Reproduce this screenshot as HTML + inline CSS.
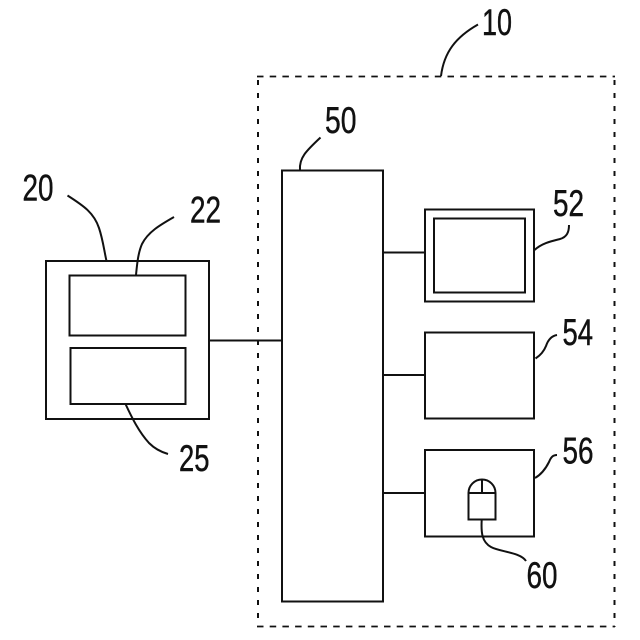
<!DOCTYPE html>
<html>
<head>
<meta charset="utf-8">
<style>
html,body{margin:0;padding:0;background:#fff;}
svg{display:block;}
text{font-family:"Liberation Sans",sans-serif;font-size:37.5px;fill:#111;stroke:#111;stroke-width:0.45;}
.l{fill:none;stroke:#111;stroke-width:2;}
.t{fill:none;stroke:#111;stroke-width:1.7;stroke-dasharray:6.5 6.2;}
.v{fill:none;stroke:#111;stroke-width:2;stroke-dasharray:5 8;}
</style>
</head>
<body>
<svg width="640" height="640" viewBox="0 0 640 640" xmlns="http://www.w3.org/2000/svg">
<rect x="0" y="0" width="640" height="640" fill="#fff"/>
<path class="t" d="M257 76.5H615M257 626.5H615"/>
<path class="v" d="M258 80V627M614.5 80V627"/>
<rect class="l" x="282" y="170.5" width="101" height="431"/>
<rect class="l" x="46" y="261" width="163" height="158"/>
<rect class="l" x="69.5" y="275.5" width="116" height="60"/>
<rect class="l" x="70.5" y="348" width="115" height="56"/>
<path class="l" d="M209 340.5H282"/>
<path class="l" d="M383 252.5H425M383 375H425M383 493H425"/>
<rect class="l" x="425" y="209.5" width="109" height="92"/>
<rect class="l" x="434" y="218.5" width="91" height="74"/>
<rect class="l" x="425" y="332.5" width="109" height="86"/>
<rect class="l" x="425" y="450" width="109" height="86.5"/>
<path class="l" d="M468.5 519.5V493A13.5 13.5 0 0 1 495.5 493V519.5Z"/>
<path class="l" d="M468.5 493H495.5M482 480V493"/>
<path class="l" d="M441 76C444 52 456 37 478 24.5"/>
<path class="l" d="M300 170C299 158 306 151 320.5 137.5"/>
<path class="l" d="M534.5 250C542 243 552 241 560 239C567 237 569 232 569 225"/>
<path class="l" d="M535.5 358.5C541 355 544 351 546 346C548 340 551 336 557 335"/>
<path class="l" d="M535 478C542 474 546 468 549 462C551 457 553 455 557 455"/>
<path class="l" d="M481.7 520C481 533 482 542 491 547C500 552 520 552 526 561"/>
<path class="l" d="M67.5 195.5C84 206 94 213 99 228C103 240 104 250 106.5 261"/>
<path class="l" d="M174 217C160 225 148 232 142 244C138 253 137 265 136 275"/>
<path class="l" d="M125.5 404C132 418 139 432 149 443C155 449 161 452 168 454"/>
<text x="482" y="35" textLength="30" lengthAdjust="spacingAndGlyphs">10</text>
<text x="325" y="133" textLength="31.5" lengthAdjust="spacingAndGlyphs">50</text>
<text x="553" y="216" textLength="31" lengthAdjust="spacingAndGlyphs">52</text>
<text x="562.5" y="345" textLength="30.5" lengthAdjust="spacingAndGlyphs">54</text>
<text x="562.5" y="463.5" textLength="31" lengthAdjust="spacingAndGlyphs">56</text>
<text x="526.5" y="588" textLength="31" lengthAdjust="spacingAndGlyphs">60</text>
<text x="22.5" y="200.5" textLength="31" lengthAdjust="spacingAndGlyphs">20</text>
<text x="190" y="222.5" textLength="31" lengthAdjust="spacingAndGlyphs">22</text>
<text x="179" y="471" textLength="30.5" lengthAdjust="spacingAndGlyphs">25</text>
</svg>
</body>
</html>
